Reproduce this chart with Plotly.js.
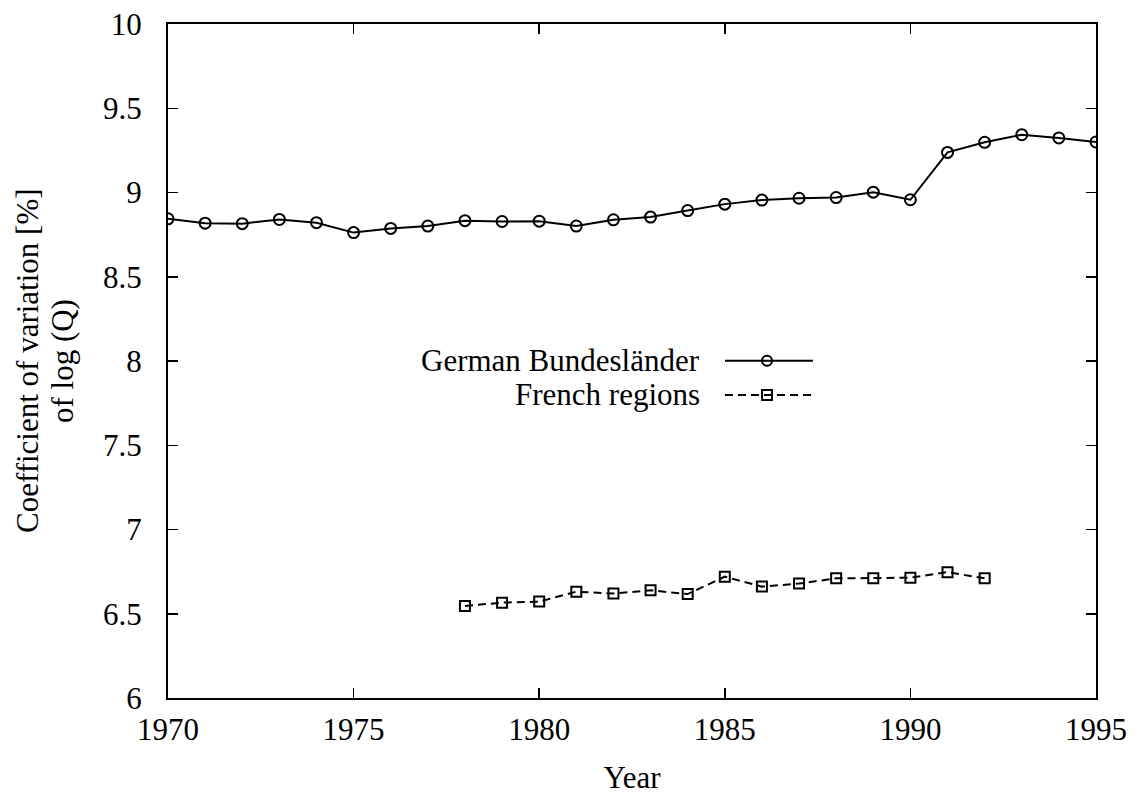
<!DOCTYPE html>
<html>
<head>
<meta charset="utf-8">
<script src="https://cdn.plot.ly/plotly-3.0.1.min.js"></script>
<style>
html,body{margin:0;padding:0;background:#fff;}
#chart{width:1138px;height:798px;}
</style>
</head>
<body>
<div id="chart"></div>
<script>
const germanYears = [1970,1971,1972,1973,1974,1975,1976,1977,1978,1979,1980,1981,1982,1983,1984,1985,1986,1987,1988,1989,1990,1991,1992,1993,1994,1995];
const germanValues = [8.844,8.818,8.815,8.840,8.821,8.762,8.787,8.801,8.833,8.828,8.830,8.801,8.838,8.854,8.893,8.931,8.955,8.966,8.970,9.002,8.957,9.238,9.298,9.343,9.324,9.300];
const frenchYears = [1978,1979,1980,1981,1982,1983,1984,1985,1986,1987,1988,1989,1990,1991,1992];
const frenchValues = [6.546,6.566,6.572,6.631,6.620,6.639,6.617,6.720,6.661,6.679,6.710,6.710,6.714,6.747,6.710];
const seriesNames = ["German Bundesländer", "French regions"];
const yTitleLines = ["Coefficient of variation [%]", "of log (Q)"];
const xTicks = [1970,1975,1980,1985,1990,1995];
const yTicks = [6,6.5,7,7.5,8,8.5,9,9.5,10];

const FONT = "Liberation Serif, Times New Roman, serif";
const FS = 31;

const traces = [
  {x: germanYears, y: germanValues, name: seriesNames[0], mode: 'lines+markers',
   line: {color: '#000', width: 2},
   marker: {symbol: 'circle-open', size: 11, color: '#000', line: {width: 2, color: '#000'}}},
  {x: frenchYears, y: frenchValues, name: seriesNames[1], mode: 'lines+markers',
   line: {color: '#000', width: 2, dash: '8px,5px'},
   marker: {symbol: 'square-open', size: 10, color: '#000', line: {width: 2, color: '#000'}}}
];

const lgX0 = 0.6002, lgX1 = 0.695, lgXm = 0.6455, lgTextX = 0.5754;
const lgY = [0.5004, 0.4496];
const yTitleX = [-0.1519, -0.1142];

const txt = (t, x, y, xa, extra) => Object.assign({xref: 'paper', yref: 'paper', x: x, y: y, xanchor: xa, yanchor: 'middle', text: t, showarrow: false, font: {family: FONT, size: FS, color: '#000'}}, extra || {});

const layout = {
  width: 1138, height: 798,
  margin: {l: 168, r: 42, t: 24, b: 100},
  paper_bgcolor: '#fff', plot_bgcolor: '#fff',
  showlegend: false,
  font: {family: FONT, size: FS, color: '#000'},
  xaxis: {
    range: [1970, 1995], tickvals: xTicks, ticktext: xTicks.map(String),
    ticks: 'inside', ticklen: 10, tickwidth: 1.5, tickcolor: '#000',
    showline: true, linecolor: '#000', linewidth: 2, mirror: 'ticks',
    showgrid: false, zeroline: false, ticklabelstandoff: 3,
    tickfont: {family: FONT, size: FS, color: '#000'},
    title: {text: 'Year', font: {family: FONT, size: FS, color: '#000'}, standoff: 20}
  },
  yaxis: {
    range: [6, 10], tickvals: yTicks, ticktext: yTicks.map(String),
    ticks: 'inside', ticklen: 10, tickwidth: 1.5, tickcolor: '#000',
    showline: true, linecolor: '#000', linewidth: 2, mirror: 'ticks',
    showgrid: false, zeroline: false, ticklabelstandoff: 18,
    tickfont: {family: FONT, size: FS, color: '#000'},
    title: {text: ''}
  },
  annotations: [
    txt(seriesNames[0], lgTextX, lgY[0], 'right'),
    txt(seriesNames[1], lgTextX, lgY[1], 'right'),
    txt(yTitleLines[0], yTitleX[0], 0.5, 'center', {textangle: -90}),
    txt(yTitleLines[1], yTitleX[1], 0.5, 'center', {textangle: -90})
  ],
  shapes: [
    {type: 'line', xref: 'paper', yref: 'paper', x0: lgX0, x1: lgX1, y0: lgY[0], y1: lgY[0], line: {color: '#000', width: 2}},
    {type: 'circle', xref: 'paper', yref: 'paper', xsizemode: 'pixel', ysizemode: 'pixel', xanchor: lgXm, yanchor: lgY[0], x0: -5, x1: 5, y0: -5, y1: 5, line: {color: '#000', width: 2}, fillcolor: 'rgba(0,0,0,0)'},
    {type: 'line', xref: 'paper', yref: 'paper', x0: lgX0, x1: lgX1, y0: lgY[1], y1: lgY[1], line: {color: '#000', width: 2, dash: '8px,5px'}},
    {type: 'rect', xref: 'paper', yref: 'paper', xsizemode: 'pixel', ysizemode: 'pixel', xanchor: lgXm, yanchor: lgY[1], x0: -5, x1: 5, y0: -5, y1: 5, line: {color: '#000', width: 2}, fillcolor: 'rgba(0,0,0,0)'}
  ]
};

Plotly.newPlot('chart', traces, layout, {displayModeBar: false, staticPlot: true});
</script>
</body>
</html>
